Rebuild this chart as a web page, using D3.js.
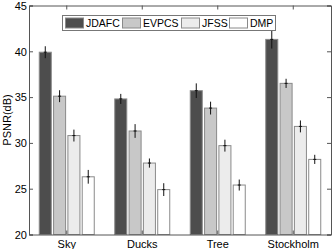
<!DOCTYPE html>
<html>
<head>
<meta charset="utf-8">
<script src="https://cdn.jsdelivr.net/npm/d3@7"></script>
<style>
  body { margin: 0; background: #fff; }
  svg { display: block; font-family: "Liberation Sans", Arial, sans-serif; }
</style>
</head>
<body>
<svg id="chart" width="332" height="249"></svg>
<script>
// data
const categories = ['Sky', 'Ducks', 'Tree', 'Stockholm'];
const methods = ['JDAFC', 'EVPCS', 'JFSS', 'DMP'];
const jdafc = [39.9, 34.8, 35.7, 41.3];
const evpcs = [35.1, 31.3, 33.8, 36.5];
const jfss  = [30.8, 27.8, 29.7, 31.8];
const dmp   = [26.3, 24.9, 25.4, 28.2];
const jdafcErr = [0.65, 0.55, 0.8, 1.0];
const evpcsErr = [0.65, 0.75, 0.7, 0.5];
const jfssErr  = [0.65, 0.5, 0.65, 0.65];
const dmpErr   = [0.75, 0.7, 0.6, 0.5];
const yTicks = [20, 25, 30, 35, 40, 45];

const colors = ['#4d4d4d', '#c8c8c8', '#ececec', '#ffffff'];
const series = [jdafc, evpcs, jfss, dmp];
const errors = [jdafcErr, evpcsErr, jfssErr, dmpErr];

const margin = { top: 5.5, right: 1, bottom: 14.5, left: 29 };
const svg = d3.select('#chart');
const width = 332 - margin.left - margin.right;
const height = 249 - margin.top - margin.bottom;

const x = d3.scaleBand().domain(categories).range([0, width]).padding(0);
const y = d3.scaleLinear().domain([20, 45]).range([height, 0]);
// offsets of the four bars inside a group
const inner = d3.scaleBand().domain(methods).range([-27.5, 27.5]).paddingInner(0.16);

const g = svg.append('g').attr('transform', `translate(${margin.left}, ${margin.top})`);

const rows = [];
categories.forEach((c, i) => {
  methods.forEach((m, j) => {
    rows.push({ c, m, j, v: series[j][i], e: errors[j][i] });
  });
});

const barMid = d => x(d.c) + x.bandwidth() / 2 + inner(d.m) + inner.bandwidth() / 2;

// bars
g.selectAll('.bar').data(rows).join('rect')
  .attr('class', 'bar')
  .attr('x', d => x(d.c) + x.bandwidth() / 2 + inner(d.m))
  .attr('y', d => y(d.v))
  .attr('width', inner.bandwidth())
  .attr('height', d => y(20) - y(d.v))
  .attr('fill', d => colors[d.j])
  .attr('stroke', '#8a8a8a')
  .attr('stroke-width', 1);

// error bars
g.selectAll('.err').data(rows).join('line')
  .attr('class', 'err')
  .attr('x1', barMid)
  .attr('x2', barMid)
  .attr('y1', d => y(d.v - d.e))
  .attr('y2', d => y(d.v + d.e))
  .attr('stroke', '#111')
  .attr('stroke-width', 1);
g.selectAll('.errc').data(rows).join('line')
  .attr('class', 'errc')
  .attr('x1', d => barMid(d) - 1.5)
  .attr('x2', d => barMid(d) + 1.5)
  .attr('y1', d => y(d.v))
  .attr('y2', d => y(d.v))
  .attr('stroke', '#111')
  .attr('stroke-width', 1);

// axes, ticks inward like matlab
const axisColor = '#555';
const yLeft = g.append('g').call(d3.axisLeft(y).tickValues(yTicks).tickSize(-4).tickPadding(2));
const yRight = g.append('g').attr('transform', `translate(${width}, 0)`)
  .call(d3.axisRight(y).tickValues(yTicks).tickSize(-4).tickFormat(''));
const xTop = g.append('g').call(d3.axisTop(x).tickSize(-4).tickFormat(''));
const xBottom = g.append('g').attr('transform', `translate(0, ${height})`)
  .call(d3.axisBottom(x).tickSize(-4).tickPadding(6));
[yLeft, yRight, xTop, xBottom].forEach(a => {
  a.select('.domain').attr('stroke', axisColor);
  a.selectAll('.tick line').attr('stroke', axisColor);
  a.selectAll('text').attr('font-size', 11).attr('fill', '#000')
    .attr('font-family', '"Liberation Sans", Arial, sans-serif');
});
yLeft.selectAll('text').attr('dy', '0.35em');

// y label
svg.append('text')
  .attr('transform', `translate(11, ${margin.top + height / 2}) rotate(-90)`)
  .attr('text-anchor', 'middle')
  .attr('font-size', 11)
  .text('PSNR(dB)');

// legend
const legend = svg.append('g').attr('transform', 'translate(62.5, 15.5)');
legend.append('rect')
  .attr('width', 213).attr('height', 15)
  .attr('fill', '#fff').attr('stroke', '#777');
const legendX = [3, 60, 119, 167];
methods.forEach((m, j) => {
  const item = legend.append('g').attr('transform', `translate(${legendX[j]}, 0)`);
  item.append('rect')
    .attr('y', 2.5).attr('width', 18).attr('height', 10)
    .attr('fill', colors[j]).attr('stroke', '#8a8a8a');
  item.append('text')
    .attr('x', 20.5).attr('y', 11.5)
    .attr('font-size', 10.5)
    .text(m);
});
</script>
</body>
</html>
